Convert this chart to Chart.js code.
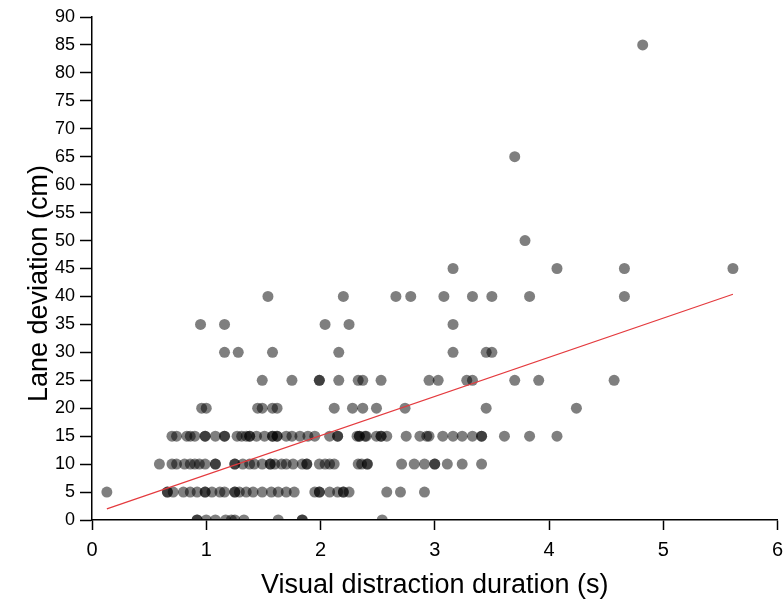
<!DOCTYPE html>
<html>
<head>
<meta charset="utf-8">
<script src="https://cdn.jsdelivr.net/npm/chart.js@4.4.0/dist/chart.umd.min.js"></script>
<style>
  html, body { margin: 0; background: #fff; }
</style>
</head>
<body>
<canvas id="scatter" width="783" height="607"></canvas>
<script>
// lane deviation levels (cm) and the durations (s) observed at each level
const laneLevels = [0, 5, 10, 15, 20, 25, 30, 35, 40, 45, 50, 65, 85];

const durAt0 = [0.92, 0.92, 1.00, 1.08, 1.17, 1.22, 1.25, 1.33, 1.63, 1.84, 1.84, 2.54];
const durAt5 = [0.13, 0.66, 0.66, 0.71, 0.80, 0.86, 0.92, 0.99, 0.99, 1.05, 1.12, 1.16,
  1.25, 1.25, 1.29, 1.35, 1.41, 1.49, 1.57, 1.63, 1.70, 1.77, 1.95, 1.99, 1.99, 2.08,
  2.15, 2.20, 2.20, 2.25, 2.58, 2.70, 2.91];
const durAt10 = [0.59, 0.70, 0.74, 0.81, 0.86, 0.90, 0.94, 0.99, 1.08, 1.08, 1.25, 1.25,
  1.32, 1.38, 1.42, 1.49, 1.56, 1.56, 1.60, 1.66, 1.70, 1.76, 1.84, 1.88, 1.88, 1.99,
  2.04, 2.08, 2.12, 2.33, 2.36, 2.41, 2.41, 2.71, 2.82, 2.91, 3.00, 3.00, 3.11, 3.24, 3.41];
const durAt15 = [0.70, 0.74, 0.83, 0.86, 0.90, 0.99, 0.99, 1.08, 1.16, 1.16, 1.27, 1.31,
  1.35, 1.38, 1.38, 1.44, 1.51, 1.58, 1.58, 1.62, 1.62, 1.70, 1.75, 1.82, 1.89, 1.95,
  2.08, 2.15, 2.15, 2.32, 2.34, 2.34, 2.39, 2.40, 2.49, 2.53, 2.53, 2.58, 2.75, 2.87,
  2.93, 2.95, 3.07, 3.16, 3.24, 3.33, 3.41, 3.41, 3.61, 3.83, 4.07];
const durAt20 = [0.96, 1.00, 1.45, 1.49, 1.58, 1.62, 2.12, 2.28, 2.37, 2.49, 2.74, 3.45, 4.24];
const durAt25 = [1.49, 1.75, 1.99, 1.99, 2.16, 2.33, 2.37, 2.53, 2.95, 3.03, 3.28, 3.33,
  3.70, 3.91, 4.57];
const durAt30 = [1.16, 1.28, 1.58, 2.16, 3.16, 3.45, 3.50];
const durAt35 = [0.95, 1.16, 2.04, 2.25, 3.16];
const durAt40 = [1.54, 2.20, 2.66, 2.79, 3.08, 3.33, 3.50, 3.83, 4.66];
const durAt45 = [3.16, 4.07, 4.66, 5.61];
const durAt50 = [3.79];
const durAt65 = [3.70];
const durAt85 = [4.82];

const durationsByLevel = [durAt0, durAt5, durAt10, durAt15, durAt20, durAt25, durAt30,
  durAt35, durAt40, durAt45, durAt50, durAt65, durAt85];

// fitted line end points
const fitX = [0.13, 5.61];
const fitY = [2.0, 40.4];

const xTicks = [0, 1, 2, 3, 4, 5, 6];
const yTicks = [0, 5, 10, 15, 20, 25, 30, 35, 40, 45, 50, 55, 60, 65, 70, 75, 80, 85, 90];

const xTitle = 'Visual distraction duration (s)';
const yTitle = 'Lane deviation (cm)';

const points = [];
laneLevels.forEach((lane, i) => {
  durationsByLevel[i].forEach(d => points.push({ x: d, y: lane }));
});
const fitPoints = fitX.map((x, i) => ({ x: x, y: fitY[i] }));

const axisFont = 'Liberation Sans, Arial, sans-serif';

// y title drawn by hand, it sits a bit below the middle of the axis
const yTitlePlugin = {
  id: 'yTitle',
  afterDraw(chart) {
    const ctx = chart.ctx;
    const area = chart.chartArea;
    ctx.save();
    ctx.translate(40, (area.top + area.bottom) / 2 + 15);
    ctx.rotate(-Math.PI / 2);
    ctx.font = '27px ' + axisFont;
    ctx.fillStyle = '#000';
    ctx.textAlign = 'center';
    ctx.textBaseline = 'middle';
    ctx.fillText(yTitle, 0, 0);
    ctx.restore();
  }
};

new Chart(document.getElementById('scatter').getContext('2d'), {
  type: 'scatter',
  data: {
    datasets: [
      {
        type: 'line',
        data: fitPoints,
        borderColor: 'rgb(228,58,62)',
        borderWidth: 1.2,
        pointRadius: 0,
        fill: false,
        order: 0
      },
      {
        data: points,
        backgroundColor: 'rgba(0,0,0,0.5)',
        borderWidth: 0,
        pointRadius: 5.5,
        clip: 0,
        order: 1
      }
    ]
  },
  options: {
    responsive: false,
    animation: false,
    layout: { padding: { top: 17, right: 5, left: 0, bottom: 0 } },
    plugins: { legend: { display: false }, tooltip: { enabled: false } },
    scales: {
      x: {
        type: 'linear',
        min: 0,
        max: 6,
        afterBuildTicks: s => { s.ticks = xTicks.map(v => ({ value: v })); },
        afterFit: s => { s.height = 87; s.paddingRight = 0; s.paddingLeft = 0; },
        ticks: { color: '#000', font: { family: axisFont, size: 20 }, padding: 8 },
        grid: { drawOnChartArea: false, color: '#000', tickLength: 10, tickWidth: 1.5 },
        border: { color: '#000', width: 1.5 },
        title: {
          display: true,
          text: xTitle,
          color: '#000',
          font: { family: axisFont, size: 27 },
          padding: { top: 0, bottom: 5 }
        }
      },
      y: {
        min: 0,
        max: 90,
        afterBuildTicks: s => { s.ticks = yTicks.map(v => ({ value: v })); },
        afterFit: s => { s.width = 92; },
        ticks: { color: '#000', font: { family: axisFont, size: 18 }, padding: 5 },
        grid: { drawOnChartArea: false, color: '#000', tickLength: 12, tickWidth: 1.5 },
        border: { color: '#000', width: 1.5 }
      }
    }
  },
  plugins: [yTitlePlugin]
});
</script>
</body>
</html>
